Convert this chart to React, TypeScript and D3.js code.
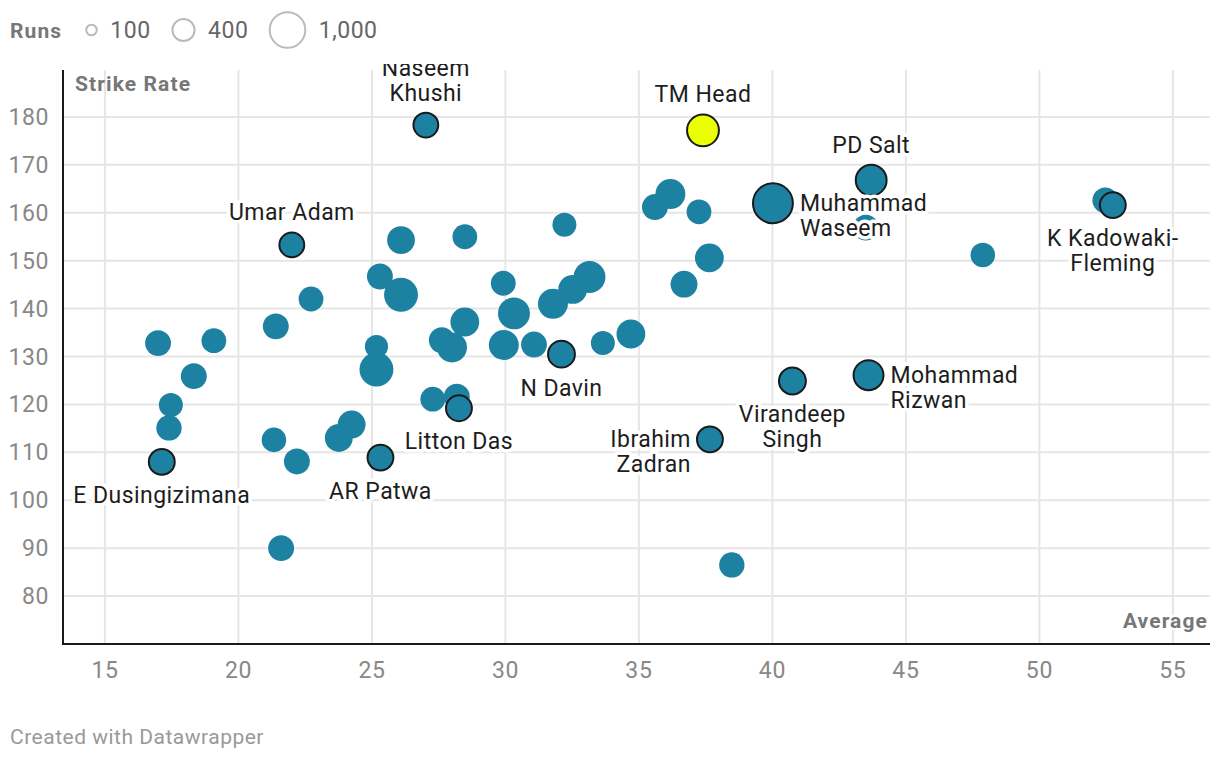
import React, { useEffect, useRef } from 'react';
import * as d3 from 'd3';

// batting average vs strike rate, bubble size = runs
const players = [
  'Naseem Khushi', 'TM Head', 'PD Salt', 'Muhammad Waseem', 'p5', 'p6a', 'K Kadowaki-Fleming', 'p8',
  'Umar Adam', 'Mohammad Rizwan', 'Virandeep Singh', 'Ibrahim Zadran', 'N Davin', 'Litton Das',
  'AR Patwa', 'E Dusingizimana',
  'p17', 'p18', 'p19', 'p20', 'p21', 'p22', 'p23', 'p24', 'p25', 'p26', 'p27', 'p28', 'p29', 'p30',
  'p31', 'p32', 'p33', 'p34', 'p35', 'p36', 'p37', 'p38', 'p39', 'p40', 'p41', 'p42', 'p43', 'p44',
  'p45', 'p46', 'p47', 'p48', 'p49', 'p50', 'p51', 'p52', 'p53', 'p54', 'p55',
];
const average = [
  27.02, 37.4, 43.7, 40.02, 43.5, 52.47, 52.75, 47.88,
  22.0, 43.6, 40.75, 37.66, 32.1, 28.26,
  25.32, 17.13,
  38.48, 21.6, 16.99, 19.08, 18.33, 17.47, 17.4, 21.33, 22.19, 21.4, 22.72, 26.09, 28.48, 25.3,
  26.09, 25.17, 25.17, 23.76, 24.24, 27.28, 28.18, 27.62, 28.0, 28.48, 29.92, 30.32, 29.94, 31.07,
  31.78, 32.52, 33.15, 32.21, 33.65, 34.7, 35.6, 36.18, 37.25, 36.69, 37.64, 41.85,
];
const strikeRate = [
  178.3, 177.2, 166.8, 162.0, 156.9, 162.6, 161.6, 151.2,
  153.3, 126.1, 124.9, 112.7, 130.5, 119.2,
  108.9, 108.0,
  86.5, 90.0, 132.8, 133.3, 125.9, 119.9, 115.1, 112.6, 108.1, 136.3, 142.0, 154.3, 155.0, 146.7,
  142.9, 132.1, 127.3, 113.0, 115.8, 121.1, 121.6, 133.4, 131.9, 137.2, 145.3, 139.0, 132.4, 132.5,
  141.0, 144.0, 146.6, 157.5, 132.8, 134.7, 161.2, 163.9, 160.2, 145.1, 150.6, 134.6,
];
const runs = [
  460, 760, 710, 1190, 500, 500, 500, 450,
  460, 670, 540, 500, 540, 500,
  500, 500,
  480, 500, 500, 460, 500, 430, 480, 450, 500, 500, 460, 580, 460, 500,
  860, 400, 860, 580, 580, 460, 500, 500, 670, 620, 460, 760, 670, 500,
  670, 620, 760, 430, 430, 620, 500, 670, 460, 540, 620, 620,
];
const highlighted = [
  'Naseem Khushi', 'TM Head', 'PD Salt', 'Muhammad Waseem', 'K Kadowaki-Fleming', 'Umar Adam',
  'Mohammad Rizwan', 'Virandeep Singh', 'Ibrahim Zadran', 'N Davin', 'Litton Das', 'AR Patwa',
  'E Dusingizimana',
];
const labels = [
  { name: 'Naseem Khushi', lines: ['Naseem', 'Khushi'], place: 'top' },
  { name: 'TM Head', lines: ['TM Head'], place: 'top' },
  { name: 'PD Salt', lines: ['PD Salt'], place: 'top' },
  { name: 'Muhammad Waseem', lines: ['Muhammad', 'Waseem'], place: 'right' },
  { name: 'K Kadowaki-Fleming', lines: ['K Kadowaki-', 'Fleming'], place: 'bottom' },
  { name: 'Umar Adam', lines: ['Umar Adam'], place: 'top' },
  { name: 'Mohammad Rizwan', lines: ['Mohammad', 'Rizwan'], place: 'right' },
  { name: 'Virandeep Singh', lines: ['Virandeep', 'Singh'], place: 'bottom' },
  { name: 'Ibrahim Zadran', lines: ['Ibrahim', 'Zadran'], place: 'left' },
  { name: 'N Davin', lines: ['N Davin'], place: 'bottom' },
  { name: 'Litton Das', lines: ['Litton Das'], place: 'bottom' },
  { name: 'AR Patwa', lines: ['AR Patwa'], place: 'bottom' },
  { name: 'E Dusingizimana', lines: ['E Dusingizimana'], place: 'bottom' },
];
const xTicks = [15, 20, 25, 30, 35, 40, 45, 50, 55];
const yTicks = [80, 90, 100, 110, 120, 130, 140, 150, 160, 170, 180];
const legendRuns = [100, 400, 1000];

const W = 1220;
const H = 760;
const FONT = 'Roboto, sans-serif';

const App = () => {
  const svgRef = useRef<SVGSVGElement>(null);

  useEffect(() => {
    const margin = { top: 70, right: 10, bottom: 116, left: 63 };
    const svg = d3.select(svgRef.current);
    svg.selectAll('*').remove();

    const x = d3.scaleLinear().domain([13.43, 56.39]).range([margin.left, W - margin.right]);
    const y = d3.scaleLinear().domain([70, 189.8]).range([H - margin.bottom, margin.top]);
    const r = d3.scaleSqrt().domain([0, 1000]).range([0, 18.3]);

    const data = players.map((name, i) => ({
      name,
      avg: average[i],
      sr: strikeRate[i],
      runs: runs[i],
      hl: highlighted.includes(name),
    }));

    // clip so labels poking above the plot get cut like the original
    svg.append('defs').append('clipPath').attr('id', 'plotclip')
      .append('rect').attr('x', 0).attr('y', 64).attr('width', W).attr('height', H - 64);

    // grid
    const grid = svg.append('g');
    grid.selectAll('line.gx').data(xTicks).enter().append('line')
      .attr('x1', d => x(d)).attr('x2', d => x(d))
      .attr('y1', margin.top).attr('y2', H - margin.bottom)
      .attr('stroke', '#e6e6e6').attr('stroke-width', 2);
    grid.selectAll('line.gy').data(yTicks).enter().append('line')
      .attr('x1', margin.left).attr('x2', W - margin.right)
      .attr('y1', d => y(d)).attr('y2', d => y(d))
      .attr('stroke', '#e6e6e6').attr('stroke-width', 2);

    // tick labels
    svg.append('g').selectAll('text').data(xTicks).enter().append('text')
      .attr('x', d => x(d)).attr('y', H - margin.bottom + 34)
      .attr('text-anchor', 'middle')
      .style('font-family', FONT).style('font-size', '23px').style('letter-spacing', '0.6px')
      .attr('fill', '#888')
      .text(d => d);
    svg.append('g').selectAll('text').data(yTicks).enter().append('text')
      .attr('x', 49).attr('y', d => y(d) + 8)
      .attr('text-anchor', 'end')
      .style('font-family', FONT).style('font-size', '23px').style('letter-spacing', '0.6px')
      .attr('fill', '#888')
      .text(d => d);

    // axis titles
    svg.append('text').attr('x', 75).attr('y', 91)
      .style('font-family', FONT).style('font-size', '21px').style('font-weight', 700)
      .style('letter-spacing', '1.1px')
      .attr('fill', '#777').text('Strike Rate');
    svg.append('text').attr('x', 1208).attr('y', 628).attr('text-anchor', 'end')
      .style('font-family', FONT).style('font-size', '21px').style('font-weight', 700)
      .style('letter-spacing', '1.1px')
      .attr('fill', '#777').attr('stroke', 'white').attr('stroke-width', 5)
      .style('paint-order', 'stroke').text('Average');

    // bubbles, plain ones first
    const sorted = [...data].sort((a, b) => Number(a.hl) - Number(b.hl));
    svg.append('g').selectAll('circle').data(sorted).enter().append('circle')
      .attr('cx', d => x(d.avg)).attr('cy', d => y(d.sr))
      .attr('r', d => r(d.runs))
      .attr('fill', d => (d.name === 'TM Head' ? '#eaff00' : '#1d81a2'))
      .attr('stroke', d => (d.hl ? '#1a1a1a' : 'none'))
      .attr('stroke-width', 2);

    // labels with white halo
    const lh = 25;
    const lg = svg.append('g').attr('clip-path', 'url(#plotclip)');
    labels.forEach(l => {
      const d = data.find(p => p.name === l.name);
      if (!d) return;
      const cx = x(d.avg);
      const cy = y(d.sr);
      const rr = r(d.runs);
      const n = l.lines.length;
      let anchor = 'middle';
      let tx = cx;
      let firstY = cy;
      if (l.place === 'top') firstY = cy - rr - 20 - (n - 1) * lh;
      if (l.place === 'bottom') firstY = cy + rr + 20;
      if (l.place === 'right') { anchor = 'start'; tx = cx + rr + 7; }
      if (l.place === 'left') { anchor = 'end'; tx = cx - rr - 6; }
      const t = lg.append('text')
        .attr('text-anchor', anchor)
        .style('font-family', FONT).style('font-size', '23px').style('letter-spacing', '0.45px')
        .attr('fill', '#1d1d1d').attr('stroke', 'white').attr('stroke-width', 7)
        .attr('stroke-linejoin', 'round')
        .style('paint-order', 'stroke');
      l.lines.forEach((line, i) => {
        t.append('tspan').attr('x', tx).attr('y', firstY + i * lh + 8).text(line);
      });
    });

    // axis lines
    svg.append('line').attr('x1', margin.left).attr('x2', margin.left)
      .attr('y1', margin.top).attr('y2', H - margin.bottom + 1)
      .attr('stroke', '#1a1a1a').attr('stroke-width', 2);
    svg.append('line').attr('x1', margin.left - 1).attr('x2', W - margin.right)
      .attr('y1', H - margin.bottom).attr('y2', H - margin.bottom)
      .attr('stroke', '#1a1a1a').attr('stroke-width', 2);

    // legend
    const leg = svg.append('g');
    leg.append('text').attr('x', 10).attr('y', 38)
      .style('font-family', FONT).style('font-size', '21px').style('font-weight', 700)
      .style('letter-spacing', '1.1px')
      .attr('fill', '#777').text('Runs');
    const legX = [91.5, 183.5, 287.5];
    legendRuns.forEach((v, i) => {
      const rr = r(v);
      leg.append('circle').attr('cx', legX[i]).attr('cy', 30).attr('r', rr - 0.5)
        .attr('fill', 'none').attr('stroke', '#bbb').attr('stroke-width', 2);
      leg.append('text').attr('x', legX[i] + rr + 13).attr('y', 38)
        .style('font-family', FONT).style('font-size', '23px').style('letter-spacing', '0.5px')
        .attr('fill', '#666')
        .text(d3.format(',')(v));
    });

    // footer
    svg.append('text').attr('x', 10).attr('y', 744)
      .style('font-family', FONT).style('font-size', '21px').style('letter-spacing', '0.5px')
      .attr('fill', '#999')
      .text('Created with Datawrapper');
  }, []);

  return (
    <svg
      ref={svgRef}
      width={W}
      height={H}
      style={{ position: 'absolute', left: 0, top: 0, background: 'white' }}
    />
  );
};

export default App;
